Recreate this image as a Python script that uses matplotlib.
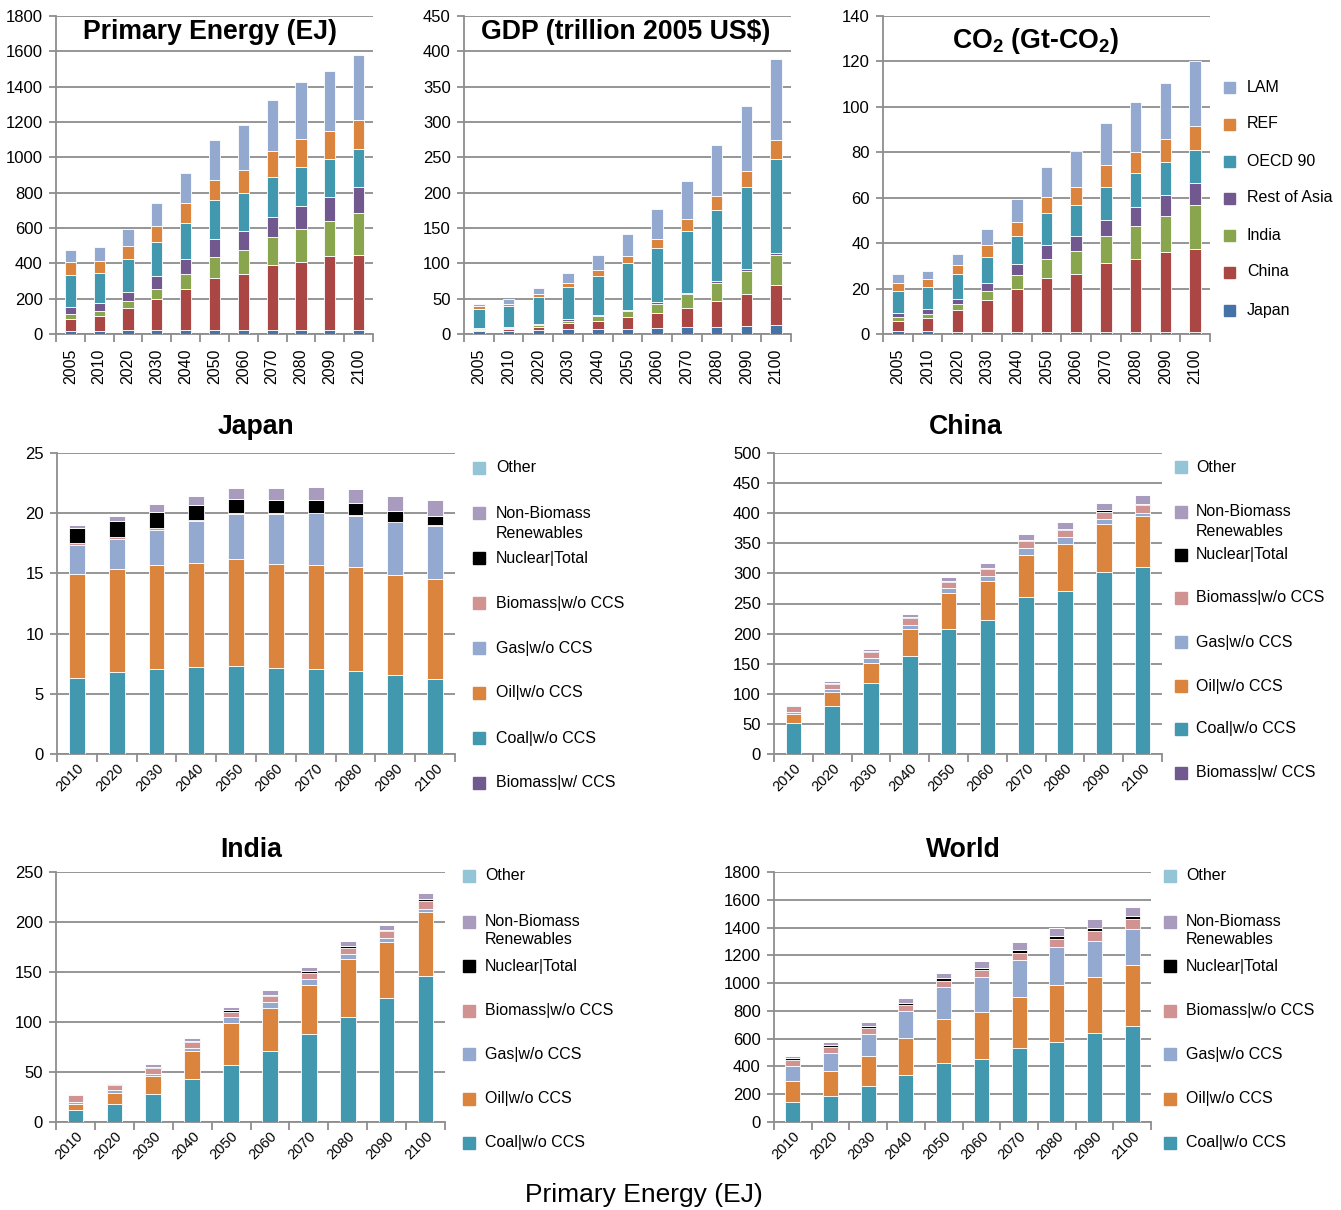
import matplotlib
matplotlib.use('Agg')
import matplotlib.pyplot as plt
from matplotlib.patches import Rectangle
from matplotlib.transforms import ScaledTranslation
import numpy as np

plt.rcParams['font.family'] = ['Liberation Sans', 'DejaVu Sans']
plt.rcParams['mathtext.fontset'] = 'custom'
plt.rcParams['mathtext.rm'] = 'Liberation Sans:bold'
plt.rcParams['mathtext.it'] = 'Liberation Sans:bold'
plt.rcParams['mathtext.bf'] = 'Liberation Sans:bold'

# ---------------- data: top row (regions) ----------------
years_top = ['2005', '2010', '2020', '2030', '2040', '2050', '2060', '2070', '2080', '2090', '2100']
regions = ['Japan', 'China', 'India', 'Rest of Asia', 'OECD 90', 'REF', 'LAM']
region_colors = ['#4572A7', '#AA4643', '#89A54E', '#71588F', '#4198AF', '#DB843D', '#93A9CF']

pe_japan = [17, 17, 21, 21, 21, 22, 22, 22, 22, 22, 22]
pe_china = [70, 83, 124, 177, 232, 295, 317, 366, 383, 417, 428]
pe_india = [28, 30, 40, 56, 88, 118, 136, 160, 187, 202, 234]
pe_rasia = [40, 43, 51, 72, 81, 102, 109, 117, 134, 135, 147]
pe_oecd = [177, 174, 186, 196, 209, 223, 215, 221, 222, 215, 217]
pe_ref = [73, 69, 77, 92, 110, 114, 132, 151, 154, 159, 162]
pe_lam = [72, 76, 98, 130, 173, 225, 253, 286, 325, 337, 367]

gdp_japan = [4, 4.2, 5, 6.6, 6.6, 7, 8, 9.4, 10, 11, 12.3]
gdp_china = [2, 2.4, 5, 8.9, 11.4, 16.6, 21.7, 27.4, 36.6, 45, 56.5]
gdp_india = [1, 1.9, 2.7, 3.5, 7, 8.4, 13.3, 19.7, 25.4, 33.5, 43.2]
gdp_rasia = [1.5, 1.5, 1.3, 2, 2, 2, 2, 1.9, 2.5, 2.5, 2.5]
gdp_oecd = [27.5, 30, 38, 45, 55, 66, 77, 88, 100.5, 116, 132.5]
gdp_ref = [3, 3, 4, 6, 8, 11, 13, 16, 19.6, 23, 28]
gdp_lam = [4, 6, 9, 14, 22, 31, 42, 54.4, 72.4, 91, 114]

co2_japan = [1.2, 1.2, 1.1, 1.1, 1.1, 1.0, 1.0, 1.0, 1.0, 1.0, 1.0]
co2_china = [4.6, 6.0, 9.4, 13.7, 18.8, 23.5, 25.4, 30.2, 32.0, 34.9, 36.4]
co2_india = [1.6, 1.5, 2.5, 4.1, 5.9, 8.6, 10.1, 11.9, 14.4, 16.1, 19.2]
co2_rasia = [1.7, 2.1, 2.5, 3.6, 4.8, 5.9, 6.6, 7.3, 8.5, 9.4, 10.0]
co2_oecd = [10.0, 9.9, 10.7, 11.5, 12.6, 14.1, 13.6, 14.4, 14.8, 14.4, 14.5]
co2_ref = [3.4, 3.4, 4.1, 5.0, 6.2, 7.0, 8.1, 9.4, 9.3, 10.0, 10.5]
co2_lam = [3.7, 3.5, 5.0, 7.3, 10.2, 13.5, 15.8, 18.6, 22.3, 24.6, 28.5]

# ---------------- data: fuel mix panels ----------------
years_low = ['2010', '2020', '2030', '2040', '2050', '2060', '2070', '2080', '2090', '2100']
fuels = ['Biomass|w/ CCS', 'Coal|w/o CCS', 'Oil|w/o CCS', 'Gas|w/o CCS',
         'Biomass|w/o CCS', 'Nuclear|Total', 'Non-Biomass Renewables', 'Other']
fuel_colors = ['#71588F', '#4198AF', '#DB843D', '#93A9CF', '#D19392', '#000000', '#A99BBD', '#93C5D6']

jp_bioccs = [0, 0, 0, 0, 0, 0, 0, 0, 0, 0]
jp_coal = [6.31, 6.78, 7.03, 7.2, 7.28, 7.12, 7.06, 6.87, 6.53, 6.26]
jp_oil = [8.67, 8.61, 8.67, 8.69, 8.92, 8.66, 8.64, 8.69, 8.34, 8.27]
jp_gas = [2.35, 2.44, 2.93, 3.46, 3.73, 4.15, 4.29, 4.24, 4.37, 4.41]
jp_bio = [0.17, 0.17, 0.11, 0.05, 0.06, 0.06, 0.05, 0.05, 0.06, 0.05]
jp_nuc = [1.27, 1.32, 1.39, 1.3, 1.21, 1.13, 1.08, 0.97, 0.88, 0.81]
jp_nbr = [0.28, 0.48, 0.66, 0.76, 0.89, 0.97, 1.03, 1.16, 1.22, 1.32]
jp_other = [0, 0, 0, 0, 0, 0, 0, 0, 0, 0]

cn_bioccs = [0, 0, 0, 0, 0, 0, 0, 0, 0, 0]
cn_coal = [51.5, 79.2, 118.5, 162.8, 207.6, 222, 260.8, 270.8, 301.8, 310.6]
cn_oil = [14.9, 23.2, 32.7, 44.8, 59.3, 64.8, 69.8, 77.5, 80.3, 84.2]
cn_gas = [2.8, 6.1, 8.3, 6.7, 8.3, 9.4, 11, 11.6, 7.7, 6.1]
cn_bio = [10.5, 8.3, 9.9, 11.6, 10.5, 11.1, 12.2, 11.6, 12.7, 12.7]
cn_nuc = [0.6, 0.6, 1.1, 1.1, 1.1, 1.7, 2.2, 2.8, 2.3, 2.2]
cn_nbr = [0.5, 3.9, 4.5, 5, 6.7, 8.3, 9.4, 10.5, 11.6, 13.9]
cn_other = [0, 0, 0, 0, 0, 0, 0, 0, 0, 0]

in_coal = [11.6, 17.6, 28.3, 42.9, 57.5, 71.1, 87.8, 105.4, 123.7, 145.9]
in_oil = [6.7, 11.7, 17.6, 28.6, 41.6, 42.9, 49.2, 57.2, 56.8, 64.5]
in_gas = [1.3, 2.3, 2.6, 3.0, 6.0, 5.7, 5.6, 5.0, 3.3, 3.0]
in_bio = [7.3, 5.6, 5.4, 6.0, 5.3, 6.3, 6.3, 6.9, 7.0, 7.7]
in_nuc = [0.4, 0.4, 1.0, 0.9, 1.3, 1.3, 2.0, 1.7, 1.7, 1.6]
in_nbr = [0.3, 1.6, 3.3, 3.0, 3.3, 4.3, 4.4, 5.0, 5.0, 6.3]
in_other = [0, 0, 0, 0, 0, 0, 0, 0, 0, 0]

wd_coal = [141, 189, 261, 337, 424, 457, 534, 577, 641, 689]
wd_oil = [153, 177, 211, 266, 316, 333, 364, 409, 400, 438]
wd_gas = [106, 132, 162, 196, 232, 254, 265, 273, 263, 264]
wd_bio = [48, 41, 43, 44, 43, 50, 55, 60, 70, 71]
wd_nuc = [12, 14, 17, 16, 19, 17, 22, 19, 21, 20]
wd_nbr = [12, 24, 29, 34, 38, 47, 55, 62, 65, 67]
wd_other = [0, 0, 0, 0, 0, 0, 0, 0, 0, 0]

# ---------------- figure ----------------
W, H = 1341, 1210
fig = plt.figure(figsize=(W / 100, H / 100), dpi=100)
GRID = '#8e8e8e'


def add_ax(x0, x1, y0, y1):
    return fig.add_axes([x0 / W, 1 - y1 / H, (x1 - x0) / W, (y1 - y0) / H])


def style(ax, labels, ymax, ystep, top_row):
    n = len(labels)
    ax.set_xlim(-0.5, n - 0.5)
    ax.set_ylim(0, ymax)
    ax.set_yticks(np.arange(0, ymax + ystep / 2, ystep))
    ax.yaxis.grid(True, color=GRID, lw=1.3)
    ax.set_axisbelow(True)
    for s in ['top', 'right']:
        ax.spines[s].set_visible(False)
    for s in ['left', 'bottom']:
        ax.spines[s].set_color(GRID)
        ax.spines[s].set_linewidth(1.3)
    ax.tick_params(axis='y', length=5, width=1.3, color=GRID, labelsize=12, pad=4.5)
    ax.set_xticks(range(n))
    ax.set_xticks(np.arange(-0.5, n, 1), minor=True)
    ax.tick_params(axis='x', which='minor', length=6, width=1.3, color=GRID)
    if top_row:
        ax.set_xticklabels(labels, rotation=90, fontsize=11.5)
        ax.tick_params(axis='x', which='major', length=0, pad=10.5)
    else:
        ax.set_xticklabels(labels, rotation=45, ha='right', va='center',
                           rotation_mode='anchor', fontsize=10.5)
        ax.tick_params(axis='x', which='major', length=0, pad=9)
        for lbl in ax.get_xticklabels():
            lbl.set_transform(lbl.get_transform() +
                              ScaledTranslation(5 / 100, 0, fig.dpi_scale_trans))


def stack(ax, series, colors, width):
    x = np.arange(len(series[0]))
    bottom = np.zeros(len(x))
    for vals, c in zip(series, colors):
        v = np.array(vals, dtype=float)
        ax.bar(x, v, width, bottom=bottom, color=c, edgecolor='white', linewidth=0.6, zorder=3)
        bottom += v


def legend(entries, x_sq, x_txt, size, fs=11.5):
    for lab, col, y in entries:
        fig.patches.append(Rectangle((x_sq / W, 1 - (y + size / 2) / H), size / W, size / H,
                                     transform=fig.transFigure, color=col, zorder=5))
        fig.text(x_txt / W, 1 - y / H, lab, va='center', ha='left', fontsize=fs)


def title_px(text, xc, y_base, fs=19.2):
    fig.text(xc / W, 1 - y_base / H, text, ha='center', va='baseline',
             fontsize=fs, fontweight='bold')


# ---- top row ----
ax1 = add_ax(56, 373, 16, 334)
stack(ax1, [pe_japan, pe_china, pe_india, pe_rasia, pe_oecd, pe_ref, pe_lam], region_colors, 0.39)
style(ax1, years_top, 1800, 200, True)
title_px('Primary Energy (EJ)', 210, 39)

ax2 = add_ax(464, 791, 16, 334)
stack(ax2, [gdp_japan, gdp_china, gdp_india, gdp_rasia, gdp_oecd, gdp_ref, gdp_lam], region_colors, 0.39)
style(ax2, years_top, 450, 50, True)
title_px('GDP (trillion 2005 US$)', 626, 39)

ax3 = add_ax(883, 1210, 16, 334)
stack(ax3, [co2_japan, co2_china, co2_india, co2_rasia, co2_oecd, co2_ref, co2_lam], region_colors, 0.39)
style(ax3, years_top, 140, 20, True)
title_px(r'CO$_2$ (Gt-CO$_2$)', 1035, 48)

top_leg_y = [87, 124, 161, 198, 235, 272, 310]
legend([(regions[i], region_colors[i], top_leg_y[6 - i]) for i in range(7)], 1224, 1247, 11)

# ---- lower panels ----
def fuel_legend(x_sq, x_txt, ys, renew_y, with_bioccs):
    order = [7, 6, 5, 4, 3, 2, 1] + ([0] if with_bioccs else [])
    ents = []
    for k, idx in enumerate(order):
        lab = fuels[idx]
        if idx == 6:
            lab = 'Non-Biomass'
        ents.append((lab, fuel_colors[idx], ys[k]))
    legend(ents, x_sq, x_txt, 12)
    fig.text(x_txt / W, 1 - renew_y / H, 'Renewables', va='center', ha='left', fontsize=11.5)


ax4 = add_ax(57, 455, 453, 754)
stack(ax4, [jp_bioccs, jp_coal, jp_oil, jp_gas, jp_bio, jp_nuc, jp_nbr, jp_other], fuel_colors, 0.4)
style(ax4, years_low, 25, 5, False)
title_px('Japan', 256, 434)
fuel_legend(473, 496, [468, 513, 558, 603, 648, 693, 738, 783], 534, True)

ax5 = add_ax(774, 1162, 453, 754)
stack(ax5, [cn_bioccs, cn_coal, cn_oil, cn_gas, cn_bio, cn_nuc, cn_nbr, cn_other], fuel_colors, 0.4)
style(ax5, years_low, 500, 50, False)
title_px('China', 966, 434)
fuel_legend(1175, 1196, [467, 512, 555, 598, 642, 686, 729, 773], 532, True)

ax6 = add_ax(56, 445, 872, 1122)
stack(ax6, [in_coal, in_oil, in_gas, in_bio, in_nuc, in_nbr, in_other], fuel_colors[1:], 0.4)
style(ax6, years_low, 250, 50, False)
title_px('India', 251, 857)
fuel_legend(463, 485, [876, 922, 966, 1011, 1054, 1099, 1143], 940, False)

ax7 = add_ax(774, 1151, 872, 1122)
stack(ax7, [wd_coal, wd_oil, wd_gas, wd_bio, wd_nuc, wd_nbr, wd_other], fuel_colors[1:], 0.4)
style(ax7, years_low, 1800, 200, False)
title_px('World', 963, 857)
fuel_legend(1164, 1186, [876, 922, 966, 1011, 1054, 1099, 1143], 940, False)

fig.text(644 / W, 1 - 1202 / H, 'Primary Energy (EJ)', ha='center', va='baseline', fontsize=19)

fig.savefig('out.png', dpi=100)
